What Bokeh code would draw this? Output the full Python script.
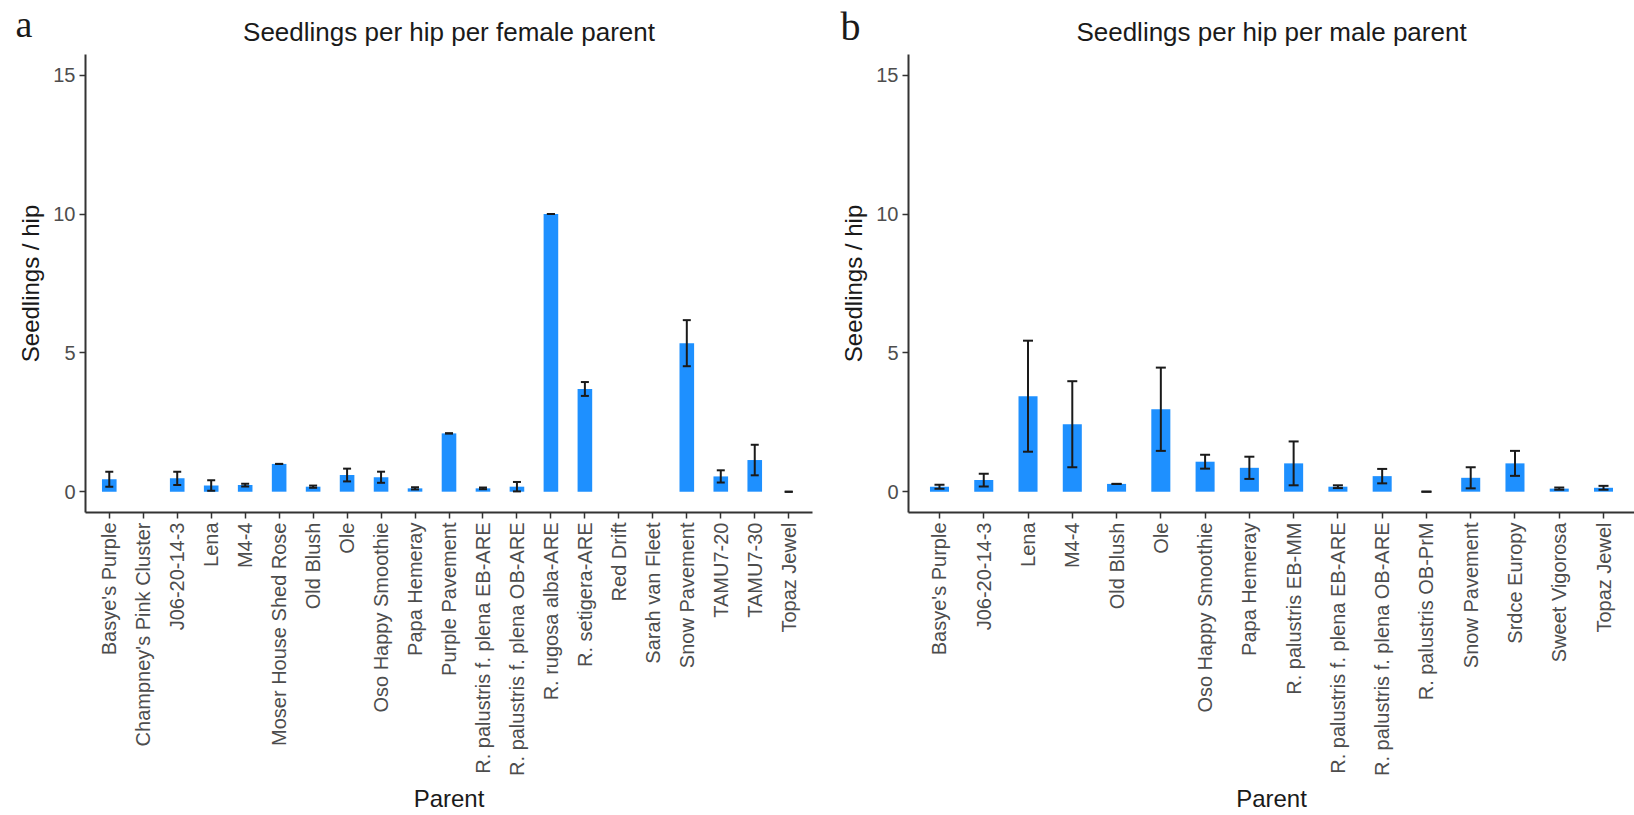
import math

from bokeh.plotting import figure
from bokeh.models import (ColumnDataSource, Whisker, TeeHead, FixedTicker,
                          Range1d, FactorRange, Label)
from bokeh.layouts import row, column
from bokeh.embed import file_html
from bokeh.resources import INLINE

nan = float("nan")

# Female parents: mean seedlings per hip and standard error
female_parents = [
    "Basye's Purple", "Champney's Pink Cluster", "J06-20-14-3", "Lena", "M4-4",
    "Moser House Shed Rose", "Old Blush", "Ole", "Oso Happy Smoothie",
    "Papa Hemeray", "Purple Pavement", "R. palustris f. plena EB-ARE",
    "R. palustris f. plena OB-ARE", "R. rugosa alba-ARE", "R. setigera-ARE",
    "Red Drift", "Sarah van Fleet", "Snow Pavement", "TAMU7-20", "TAMU7-30",
    "Topaz Jewel",
]
female_mean = [0.45, nan, 0.48, 0.22, 0.24, 1.0, 0.18, 0.60, 0.52, 0.12, 2.1,
               0.12, 0.18, 10.0, 3.7, nan, nan, 5.35, 0.55, 1.14, 0.0]
female_se = [0.27, nan, 0.24, 0.19, 0.05, 0.0, 0.04, 0.23, 0.20, 0.04, 0.0,
             0.03, 0.17, 0.0, 0.25, nan, nan, 0.83, 0.22, 0.55, 0.0]

# Male parents: mean seedlings per hip and standard error
male_parents = [
    "Basye's Purple", "J06-20-14-3", "Lena", "M4-4", "Old Blush", "Ole",
    "Oso Happy Smoothie", "Papa Hemeray", "R. palustris EB-MM",
    "R. palustris f. plena EB-ARE", "R. palustris f. plena OB-ARE",
    "R. palustris OB-PrM", "Snow Pavement", "Srdce Europy", "Sweet Vigorosa",
    "Topaz Jewel",
]
male_mean = [0.18, 0.42, 3.44, 2.43, 0.28, 2.97, 1.08, 0.86, 1.02, 0.18, 0.56,
             0.0, 0.50, 1.02, 0.11, 0.14]
male_se = [0.07, 0.23, 2.0, 1.55, 0.0, 1.5, 0.25, 0.40, 0.79, 0.05, 0.26,
           0.0, 0.38, 0.45, 0.04, 0.07]

y_ticks = [0, 5, 10, 15]

FONT = "Liberation Sans"
BAR = "#1E90FF"
INK = "#1a1a1a"
TICK_TXT = "#4d4d4d"
WIDTH = 817
HEAD_H = 54
BODY_H = 761
BOTTOM = 303


def header(title, letter, left, frame_w, letter_x, letter_base, letter_size):
    """Thin strip above a panel holding its letter and its title."""
    h = figure(width=WIDTH, height=HEAD_H, x_axis_type=None, y_axis_type=None,
               x_range=Range1d(0, WIDTH), y_range=Range1d(HEAD_H, 0),
               output_backend="svg", toolbar_location=None, tools="",
               title=None, min_border=0)
    h.outline_line_color = None
    h.xgrid.visible = False
    h.ygrid.visible = False
    # y runs downward here so positions read like page coordinates
    h.add_layout(Label(x=letter_x, y=letter_base, text=letter,
                       text_font="Liberation Serif", text_font_size=letter_size,
                       text_color=INK, text_baseline="alphabetic"))
    h.add_layout(Label(x=left + frame_w / 2, y=31, text=title,
                       text_font=FONT, text_font_size="26px",
                       text_color=INK, text_align="center",
                       text_baseline="alphabetic"))
    return h


def panel(parents, mean, se, left, right, cap):
    lower = [m - s for m, s in zip(mean, se)]
    upper = [m + s for m, s in zip(mean, se)]
    src = ColumnDataSource(dict(parent=parents, mean=mean, lower=lower, upper=upper))

    x_range = FactorRange(factors=parents, range_padding=0.2,
                          range_padding_units="absolute")
    p = figure(x_range=x_range, y_range=Range1d(-0.75, 15.75),
               width=WIDTH, height=BODY_H, output_backend="svg",
               toolbar_location=None, tools="", title=None,
               min_border_left=left, min_border_right=right,
               min_border_top=0, min_border_bottom=BOTTOM)

    p.vbar(x="parent", top="mean", bottom=0, width=0.43, source=src,
           fill_color=BAR, line_color=None)

    err = Whisker(base="parent", lower="lower", upper="upper", source=src,
                  line_color=INK, line_width=2, level="overlay",
                  upper_head=TeeHead(size=cap, line_color=INK, line_width=2),
                  lower_head=TeeHead(size=cap, line_color=INK, line_width=2))
    p.add_layout(err)

    p.xgrid.visible = False
    p.ygrid.visible = False
    p.outline_line_color = None
    p.background_fill_color = "white"
    p.border_fill_color = "white"

    p.yaxis.ticker = FixedTicker(ticks=y_ticks)
    p.xaxis.axis_label = "Parent"
    p.yaxis.axis_label = "Seedlings / hip"
    p.xaxis.major_label_orientation = math.pi / 2

    for ax in (p.xaxis, p.yaxis):
        ax.axis_line_color = "#333333"
        ax.axis_line_width = 2
        ax.major_tick_line_color = "#333333"
        ax.major_tick_line_width = 1.5
        ax.major_tick_out = 6
        ax.major_tick_in = 0
        ax.minor_tick_line_color = None
        ax.major_label_text_font = FONT
        ax.major_label_text_font_size = "20px"
        ax.major_label_text_color = TICK_TXT
        ax.major_label_standoff = 4
        ax.axis_label_text_font = FONT
        ax.axis_label_text_font_size = "24px"
        ax.axis_label_text_font_style = "normal"
        ax.axis_label_text_color = INK
        ax.axis_label_standoff = 6
    return p


pa = panel(female_parents, female_mean, female_se, 85, 5, 8)
pb = panel(male_parents, male_mean, male_se, 91, 0, 10)
ha = header("Seedlings per hip per female parent", "a", 85, WIDTH - 85 - 5,
            15, 23, "38px")
hb = header("Seedlings per hip per male parent", "b", 91, WIDTH - 91,
            23, 26, "40px")

layout = column(row(ha, hb), row(pa, pb))
open("out.html", "w").write(file_html(layout, INLINE))
